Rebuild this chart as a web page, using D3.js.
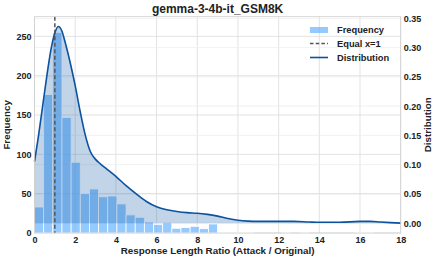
<!DOCTYPE html>
<html>
<head>
<meta charset="utf-8">
<script src="https://cdn.jsdelivr.net/npm/d3@7"></script>
<style>
  body { margin: 0; background: #fff; }
  text { font-family: "Liberation Sans", Arial, sans-serif; fill: #222; }
</style>
</head>
<body>
<svg id="chart" width="438" height="261"></svg>
<script>
// histogram: 40 bins of width 0.45 starting at 0
var binWidth = 0.45;
var freqCounts = [33, 176, 255, 147, 90, 50, 56, 46, 47, 37,
                  23, 20, 14, 11, 13, 6, 7, 8.5, 5.5, 11.5,
                  1, 1, 1, 1, 0, 0, 0, 1, 0, 1,
                  0, 0, 0, 0, 0, 1, 1, 0, 0, 0];

// density curve
var densX = [0, 0.2, 0.4, 0.6, 0.8, 1.0, 1.17, 1.35, 1.5, 1.75, 2.0, 2.25, 2.5, 2.75, 3.0, 3.25, 3.5,
             4.0, 4.5, 5.0, 5.5, 6.0, 6.5, 7.0, 7.5, 8.0, 8.5, 9.0, 9.5, 10, 10.5, 11, 12, 12.75,
             13.5, 14, 15, 16, 16.5, 17, 18];
var densY = [0.105, 0.15, 0.2, 0.25, 0.295, 0.325, 0.336, 0.328, 0.31, 0.275, 0.235, 0.19, 0.15, 0.122, 0.109, 0.101, 0.094,
             0.08, 0.064, 0.05, 0.037, 0.028, 0.023, 0.02, 0.018, 0.017, 0.015, 0.012, 0.008, 0.005, 0.0035, 0.003, 0.003, 0.003,
             0.002, 0.0015, 0.0015, 0.003, 0.003, 0.002, 0.0];

var xTicks = [0, 2, 4, 6, 8, 10, 12, 14, 16, 18];
var freqTicks = [0, 50, 100, 150, 200, 250];
var densTicks = [0, 0.05, 0.1, 0.15, 0.2, 0.25, 0.3, 0.35];
var equalLine = 1;

var svg = d3.select("#chart"),
    margin = {top: 16.7, right: 37.3, bottom: 28, left: 34.5},
    width = +svg.attr("width"),
    height = +svg.attr("height");

var x = d3.scaleLinear().domain([0, 18]).range([margin.left, width - margin.right]);
var yL = d3.scaleLinear().domain([0, 275]).range([height - margin.bottom, margin.top]);
var yR = d3.scaleLinear().domain([-0.0168, 0.3528]).range([height - margin.bottom, margin.top]);

var bars = freqCounts.map(function(c, i) { return {x0: i * binWidth, x1: (i + 1) * binWidth, n: c}; });
var dens = densX.map(function(v, i) { return {x: v, y: densY[i]}; });

// grid
var grid = svg.append("g");
grid.selectAll(".gx").data(xTicks).enter().append("line")
    .attr("x1", function(d) { return x(d); }).attr("x2", function(d) { return x(d); })
    .attr("y1", margin.top).attr("y2", height - margin.bottom)
    .attr("stroke", "#dcdcdc").attr("stroke-width", 0.8);
grid.selectAll(".gr").data(densTicks).enter().append("line")
    .attr("x1", margin.left).attr("x2", width - margin.right)
    .attr("y1", function(d) { return yR(d); }).attr("y2", function(d) { return yR(d); })
    .attr("stroke", "#ededed").attr("stroke-width", 0.8);
grid.selectAll(".gl").data(freqTicks).enter().append("line")
    .attr("x1", margin.left).attr("x2", width - margin.right)
    .attr("y1", function(d) { return yL(d); }).attr("y2", function(d) { return yL(d); })
    .attr("stroke", "#dcdcdc").attr("stroke-width", 0.8);

// bars
svg.append("g").selectAll("rect").data(bars).enter().append("rect")
    .attr("x", function(d) { return x(d.x0); })
    .attr("width", function(d) { return x(d.x1) - x(d.x0); })
    .attr("y", function(d) { return yL(d.n); })
    .attr("height", function(d) { return yL(0) - yL(d.n); })
    .attr("fill", "#66b3ff").attr("fill-opacity", 0.7)
    .attr("stroke", "#fff").attr("stroke-width", 0.8);

// density fill + line
var area = d3.area()
    .x(function(d) { return x(d.x); })
    .y0(yR(0))
    .y1(function(d) { return yR(d.y); })
    .curve(d3.curveMonotoneX);
var line = d3.line()
    .x(function(d) { return x(d.x); })
    .y(function(d) { return yR(d.y); })
    .curve(d3.curveMonotoneX);

svg.append("path").datum(dens).attr("d", area)
    .attr("fill", "#0b52a0").attr("fill-opacity", 0.25);
svg.append("path").datum(dens).attr("d", line)
    .attr("fill", "none").attr("stroke", "#0b52a0").attr("stroke-width", 1.6);

// x = 1 reference
svg.append("line")
    .attr("x1", x(equalLine)).attr("x2", x(equalLine))
    .attr("y1", margin.top).attr("y2", height - margin.bottom)
    .attr("stroke", "#555").attr("stroke-width", 1.5).attr("stroke-dasharray", "4,2.5");

// frame
svg.append("rect")
    .attr("x", margin.left).attr("y", margin.top)
    .attr("width", width - margin.left - margin.right)
    .attr("height", height - margin.top - margin.bottom)
    .attr("fill", "none").attr("stroke", "#cfcfcf").attr("stroke-width", 0.8);

// axes
var ax = svg.append("g")
    .attr("transform", "translate(0," + (height - margin.bottom) + ")")
    .call(d3.axisBottom(x).tickValues(xTicks).tickSize(0).tickPadding(4).tickFormat(d3.format("d")));
var al = svg.append("g")
    .attr("transform", "translate(" + margin.left + ",0)")
    .call(d3.axisLeft(yL).tickValues(freqTicks).tickSize(0).tickPadding(3));
var ar = svg.append("g")
    .attr("transform", "translate(" + (width - margin.right) + ",0)")
    .call(d3.axisRight(yR).tickValues(densTicks).tickSize(0).tickPadding(3).tickFormat(d3.format(".2f")));

[ax, al, ar].forEach(function(g) {
  g.select(".domain").remove();
  g.selectAll("text")
    .style("font-family", "'Liberation Sans', Arial, sans-serif")
    .style("font-size", "9px").style("font-weight", "bold").attr("fill", "#222");
});

// titles
svg.append("text")
    .attr("x", (margin.left + width - margin.right) / 2).attr("y", 13)
    .attr("text-anchor", "middle")
    .style("font-size", "12px").style("font-weight", "bold")
    .text("gemma-3-4b-it_GSM8K");

svg.append("text")
    .attr("x", (margin.left + width - margin.right) / 2).attr("y", 254)
    .attr("text-anchor", "middle")
    .style("font-size", "9.8px").style("font-weight", "bold")
    .text("Response Length Ratio (Attack / Original)");

svg.append("text")
    .attr("transform", "translate(10," + ((margin.top + height - margin.bottom) / 2) + ") rotate(-90)")
    .attr("text-anchor", "middle")
    .style("font-size", "9.8px").style("font-weight", "bold")
    .text("Frequency");

svg.append("text")
    .attr("transform", "translate(431," + ((margin.top + height - margin.bottom) / 2) + ") rotate(-90)")
    .attr("text-anchor", "middle")
    .style("font-size", "9.8px").style("font-weight", "bold")
    .text("Distribution");

// legend
var legend = svg.append("g").attr("transform", "translate(310,30)");
legend.append("rect")
    .attr("x", 0).attr("y", -3).attr("width", 18).attr("height", 6)
    .attr("fill", "#66b3ff").attr("fill-opacity", 0.7);
legend.append("line")
    .attr("x1", 0).attr("x2", 18).attr("y1", 13.5).attr("y2", 13.5)
    .attr("stroke", "#555").attr("stroke-width", 1.3).attr("stroke-dasharray", "3.5,2.2");
legend.append("line")
    .attr("x1", 0).attr("x2", 18).attr("y1", 27.5).attr("y2", 27.5)
    .attr("stroke", "#0b52a0").attr("stroke-width", 1.6);
legend.selectAll(".lt").data(["Frequency", "Equal x=1", "Distribution"]).enter().append("text")
    .attr("x", 27).attr("y", function(d, i) { return i * 13.7 + 3.3; })
    .style("font-size", "9.3px").style("font-weight", "bold")
    .text(function(d) { return d; });
</script>
</body>
</html>
